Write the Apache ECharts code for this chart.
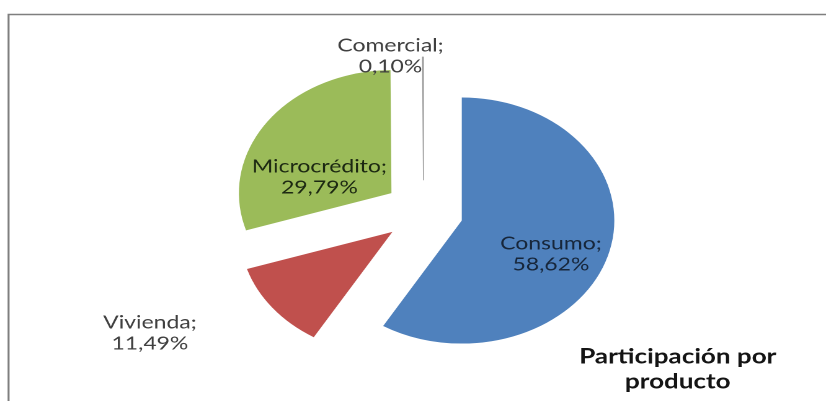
<!DOCTYPE html>
<html>
<head>
<meta charset="utf-8">
<script src="https://cdn.jsdelivr.net/npm/echarts@6/dist/echarts.min.js"></script>
<style>
  html, body { margin: 0; padding: 0; background: #ffffff; overflow: hidden; }
  #wrap { width: 826px; height: 401px; overflow: hidden; }
  /* the chart is laid out on a 666px-wide canvas and widened to the 826px frame */
  #chart { width: 666px; height: 401px; transform: scaleX(1.2402); transform-origin: 0 0; }
</style>
</head>
<body>
<div id="wrap"><div id="chart"></div></div>
<script>
// Loan portfolio share by product
const categories = ['Consumo', 'Vivienda', 'Microcrédito', 'Comercial'];
const shares = [58.62, 11.49, 29.79, 0.10];
const sliceColors = ['#4f81bd', '#c0504d', '#9bbb59', '#9a9a9a'];
const chartTitle = 'Participación por\nproducto';

// pie geometry (chart-canvas pixels)
const pieCenter = [341.5, 212];
const pieRadius = 123;
const explode = 32;

// where each label sits: distance from the slice tip (in radii) and turn from the slice's mid-angle
const labelPlacement = {
  'Consumo':      { dist: 0.645, turn: 9.5,   color: '#17263a' },
  'Vivienda':     { dist: 1.79,  turn: 10.9,  color: '#404040' },
  'Microcrédito': { dist: 0.49,  turn: -20.5, color: '#1c2812' },
  'Comercial':    { dist: 1.03,  turn: -11.9, color: '#404040' }
};

const labelFont = '18.5px Lato, "Liberation Sans", sans-serif';
const fmt = v => v.toFixed(2).replace('.', ',') + '%';

// mid-angle of each slice, clockwise from 12 o'clock
const total = shares.reduce((a, b) => a + b, 0);
const midAngles = [];
let acc = 0;
shares.forEach(v => {
  midAngles.push((acc + v / 2) / total * 360);
  acc += v;
});
const dirOf = deg => {
  const a = deg * Math.PI / 180;
  return [Math.sin(a), -Math.cos(a)];
};
function labelPoint(i) {
  const p = labelPlacement[categories[i]];
  const d0 = dirOf(midAngles[i]);
  const tip = [pieCenter[0] + explode * d0[0], pieCenter[1] + explode * d0[1]];
  const d1 = dirOf(midAngles[i] + p.turn);
  return [tip[0] + p.dist * pieRadius * d1[0], tip[1] + p.dist * pieRadius * d1[1]];
}

// slice labels: "Name;\nvalue%"
const sliceLabels = categories.map((name, i) => {
  const pt = labelPoint(i);
  return {
    type: 'text',
    silent: true,
    z: 10,
    x: pt[0],
    y: pt[1],
    style: {
      text: name + ';\n' + fmt(shares[i]),
      font: labelFont,
      lineHeight: 21,
      fill: labelPlacement[name].color,
      textAlign: 'center',
      textVerticalAlign: 'middle'
    }
  };
});

const chart = echarts.init(document.getElementById('chart'), null, { renderer: 'canvas', devicePixelRatio: 2 });

const option = {
  animation: false,
  backgroundColor: '#ffffff',
  title: {
    text: chartTitle,
    left: 541.5,
    top: 339,
    textAlign: 'center',
    textStyle: {
      fontFamily: 'Lato, "Liberation Sans", sans-serif',
      fontWeight: 'bold',
      fontSize: 21,
      lineHeight: 25,
      color: '#141414'
    }
  },
  graphic: [{
    type: 'rect',
    silent: true,
    shape: { x: 6.9, y: 14.5, width: 800, height: 500 },
    style: { fill: 'none', stroke: '#7f7f7f', lineWidth: 1.6 }
  }].concat(sliceLabels),
  series: [{
    type: 'pie',
    center: pieCenter,
    radius: pieRadius,
    startAngle: 90,
    clockwise: true,
    avoidLabelOverlap: false,
    selectedMode: 'multiple',
    selectedOffset: explode,
    emphasis: { disabled: true },
    select: { itemStyle: { borderWidth: 0 } },
    itemStyle: { borderWidth: 0 },
    label: { show: false },
    labelLine: { show: false },
    data: categories.map((name, i) => {
      // the thinnest slice gets a hairline edge so it stays visible
      const edge = shares[i] < 1 ? { borderColor: sliceColors[i], borderWidth: 0.7 } : {};
      return {
        name: name,
        value: shares[i],
        selected: true,
        itemStyle: Object.assign({ color: sliceColors[i] }, edge),
        select: { itemStyle: Object.assign({ color: sliceColors[i] }, edge) }
      };
    })
  }]
};

chart.setOption(option);
</script>
</body>
</html>
